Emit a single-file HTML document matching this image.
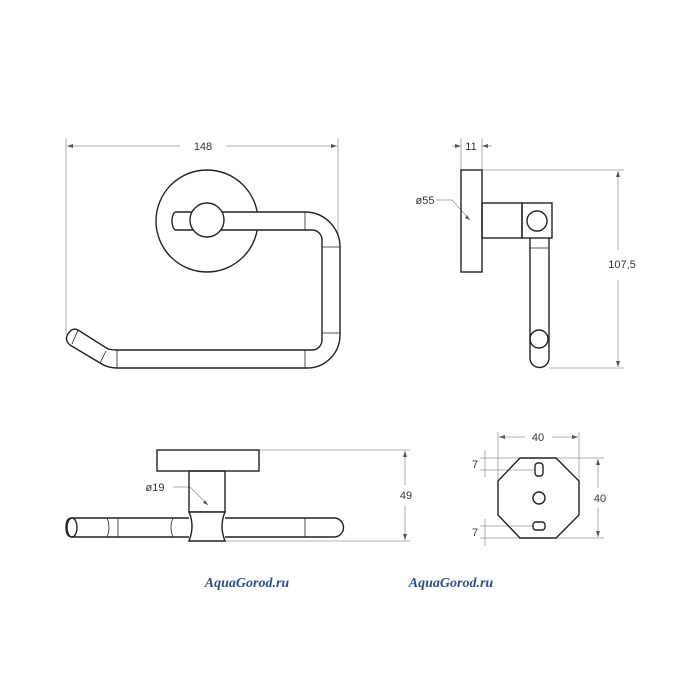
<!DOCTYPE html>
<html><head><meta charset="utf-8"><style>
html,body{margin:0;padding:0;background:#fff;}
svg{display:block;}
text{font-family:"Liberation Sans",sans-serif;fill:#333;}
</style></head><body>
<svg width="700" height="700" viewBox="0 0 700 700" xmlns="http://www.w3.org/2000/svg">
<rect width="700" height="700" fill="#fff"/>
<g fill="none" stroke="#999" stroke-width="0.8">
 <!-- 148 -->
 <line x1="66" y1="138" x2="66" y2="335"/><line x1="338" y1="138" x2="338" y2="250"/>
 <line x1="67" y1="146" x2="180" y2="146"/><line x1="226" y1="146" x2="337" y2="146"/>
 <!-- 11 -->
 <line x1="461" y1="138" x2="461" y2="170"/><line x1="482" y1="138" x2="482" y2="170"/>
 <line x1="452" y1="146" x2="461" y2="146"/><line x1="482" y1="146" x2="492" y2="146"/>
 <!-- 107,5 -->
 <line x1="482" y1="170" x2="624" y2="170"/><line x1="549" y1="368" x2="624" y2="368"/>
 <line x1="618" y1="171" x2="618" y2="250"/><line x1="618" y1="280" x2="618" y2="367"/>
 <polyline points="436,200 452,200 470,220"/>
 <!-- 49 -->
 <line x1="259" y1="450" x2="410" y2="450"/><line x1="225" y1="541" x2="410" y2="541"/>
 <line x1="405" y1="451" x2="405" y2="485"/><line x1="405" y1="505" x2="405" y2="540"/>
 <polyline points="173,487 190,487 208,505"/>
 <!-- 40 top -->
 <line x1="498" y1="432" x2="498" y2="481"/><line x1="579" y1="432" x2="579" y2="481"/>
 <line x1="499" y1="437" x2="525" y2="437"/><line x1="552" y1="437" x2="578" y2="437"/>
 <!-- 40 right -->
 <line x1="556" y1="458" x2="604" y2="458"/><line x1="556" y1="538" x2="604" y2="538"/>
 <line x1="598" y1="459" x2="598" y2="488"/><line x1="598" y1="508" x2="598" y2="537"/>
 <!-- 7s -->
 <line x1="480" y1="458" x2="520" y2="458"/><line x1="480" y1="470" x2="535" y2="470"/>
 <line x1="485" y1="450" x2="485" y2="477"/>
 <line x1="480" y1="526" x2="533" y2="526"/><line x1="480" y1="538" x2="520" y2="538"/>
 <line x1="485" y1="519" x2="485" y2="546"/>
</g>
<g fill="#555">
 <path d="M67 146 l6 -2 v4z"/><path d="M337 146 l-6 -2 v4z"/>
 <path d="M461 146 l-6 -2 v4z"/><path d="M482 146 l6 -2 v4z"/>
 <path d="M618 171 l-2 6 h4z"/><path d="M618 367 l-2 -6 h4z"/>
 <path d="M405 451 l-2 6 h4z"/><path d="M405 540 l-2 -6 h4z"/>
 <path d="M499 437 l6 -2 v4z"/><path d="M578 437 l-6 -2 v4z"/>
 <path d="M598 459 l-2 6 h4z"/><path d="M598 537 l-2 -6 h4z"/>
 <path d="M470 220 l-5 -2 l2 -3z"/><path d="M208 505 l-5 -2 l2 -3z"/>
</g>
<g fill="none" stroke="#222" stroke-width="1.4">
 <!-- top view -->
 <circle cx="207" cy="221" r="51"/>
 <path d="M176 212 H305 A35 35 0 0 1 340 247 V335 A33 33 0 0 1 307 368 H117 Q108 368 100 363 L70 345 Q64 340 68 334 Q72 327 78 330 L108 349 Q112 350 117 350 H312 A10 10 0 0 0 322 340 V240 A10 10 0 0 0 312 230 H176 A4 9 0 0 1 176 212" fill="#fff"/>
 <circle cx="207" cy="220" r="17" fill="#fff"/>
 <line x1="305" y1="212" x2="305" y2="230" stroke-width="0.8"/>
 <line x1="322" y1="247" x2="340" y2="247" stroke-width="0.8"/>
 <line x1="322" y1="333" x2="340" y2="333" stroke-width="0.8"/>
 <line x1="305" y1="350" x2="305" y2="368" stroke-width="0.8"/>
 <line x1="117" y1="350" x2="117" y2="368" stroke-width="0.8"/>
 <line x1="106" y1="351" x2="100" y2="363" stroke-width="0.8"/>
 <line x1="78" y1="330" x2="72" y2="344" stroke-width="0.8"/>
 <!-- side view -->
 <rect x="461" y="170" width="21" height="102"/>
 <rect x="482" y="203" width="40" height="35"/>
 <rect x="522" y="203" width="30" height="35"/>
 <circle cx="537" cy="221" r="10"/>
 <path d="M530 238 V358 A9.5 9.5 0 0 0 549 358 V238"/>
 <line x1="530" y1="248" x2="549" y2="248" stroke-width="0.8"/>
 <circle cx="539" cy="339" r="9"/>
 <!-- bottom view -->
 <rect x="157" y="450" width="102" height="21"/>
 <rect x="189" y="471" width="36" height="41"/>
 <path d="M66 527 Q66 518 72 518 H189 M225 518 H334 A9.5 9.5 0 0 1 334 537 H225 M189 537 H72 Q66 537 66 527" />
 <ellipse cx="72" cy="527.5" rx="5" ry="9.5"/>
 <path d="M189 512 H225 Q219 526 225 541 H189 Q195 526 189 512Z" fill="#fff"/>
 <line x1="118" y1="518" x2="118" y2="537" stroke-width="0.8"/>
 <line x1="305" y1="518" x2="305" y2="537" stroke-width="0.8"/>
 <path d="M107 518 Q111 527 107 537" stroke-width="0.8"/>
 <path d="M173 518 Q169 527 173 537" stroke-width="0.8"/>
 <!-- plate view -->
 <polygon points="520,458 556,458 579,481 579,515 556,538 520,538 498,515 498,481"/>
 <rect x="535" y="463" width="8" height="13" rx="3"/>
 <circle cx="539" cy="498" r="6"/>
 <rect x="533" y="522" width="12" height="8" rx="3"/>
</g>
<g font-size="11">
 <text x="203" y="150" text-anchor="middle">148</text>
 <text x="471" y="150" text-anchor="middle">11</text>
 <text x="425" y="204" text-anchor="middle">ø55</text>
 <text x="622" y="268" text-anchor="middle">107,5</text>
 <text x="406" y="499" text-anchor="middle">49</text>
 <text x="155" y="491" text-anchor="middle">ø19</text>
 <text x="538" y="441" text-anchor="middle">40</text>
 <text x="600" y="502" text-anchor="middle">40</text>
 <text x="475" y="468" text-anchor="middle">7</text>
 <text x="475" y="536" text-anchor="middle">7</text>
</g>
<g font-family="Liberation Serif,serif" font-style="italic" font-weight="bold" font-size="14" fill="#2e4e8e">
 <text x="247" y="587" text-anchor="middle" style="fill:#2e4e8e;font-family:'Liberation Serif',serif">AquaGorod.ru</text>
 <text x="451" y="587" text-anchor="middle" style="fill:#2e4e8e;font-family:'Liberation Serif',serif">AquaGorod.ru</text>
</g>
</svg>
</body></html>
